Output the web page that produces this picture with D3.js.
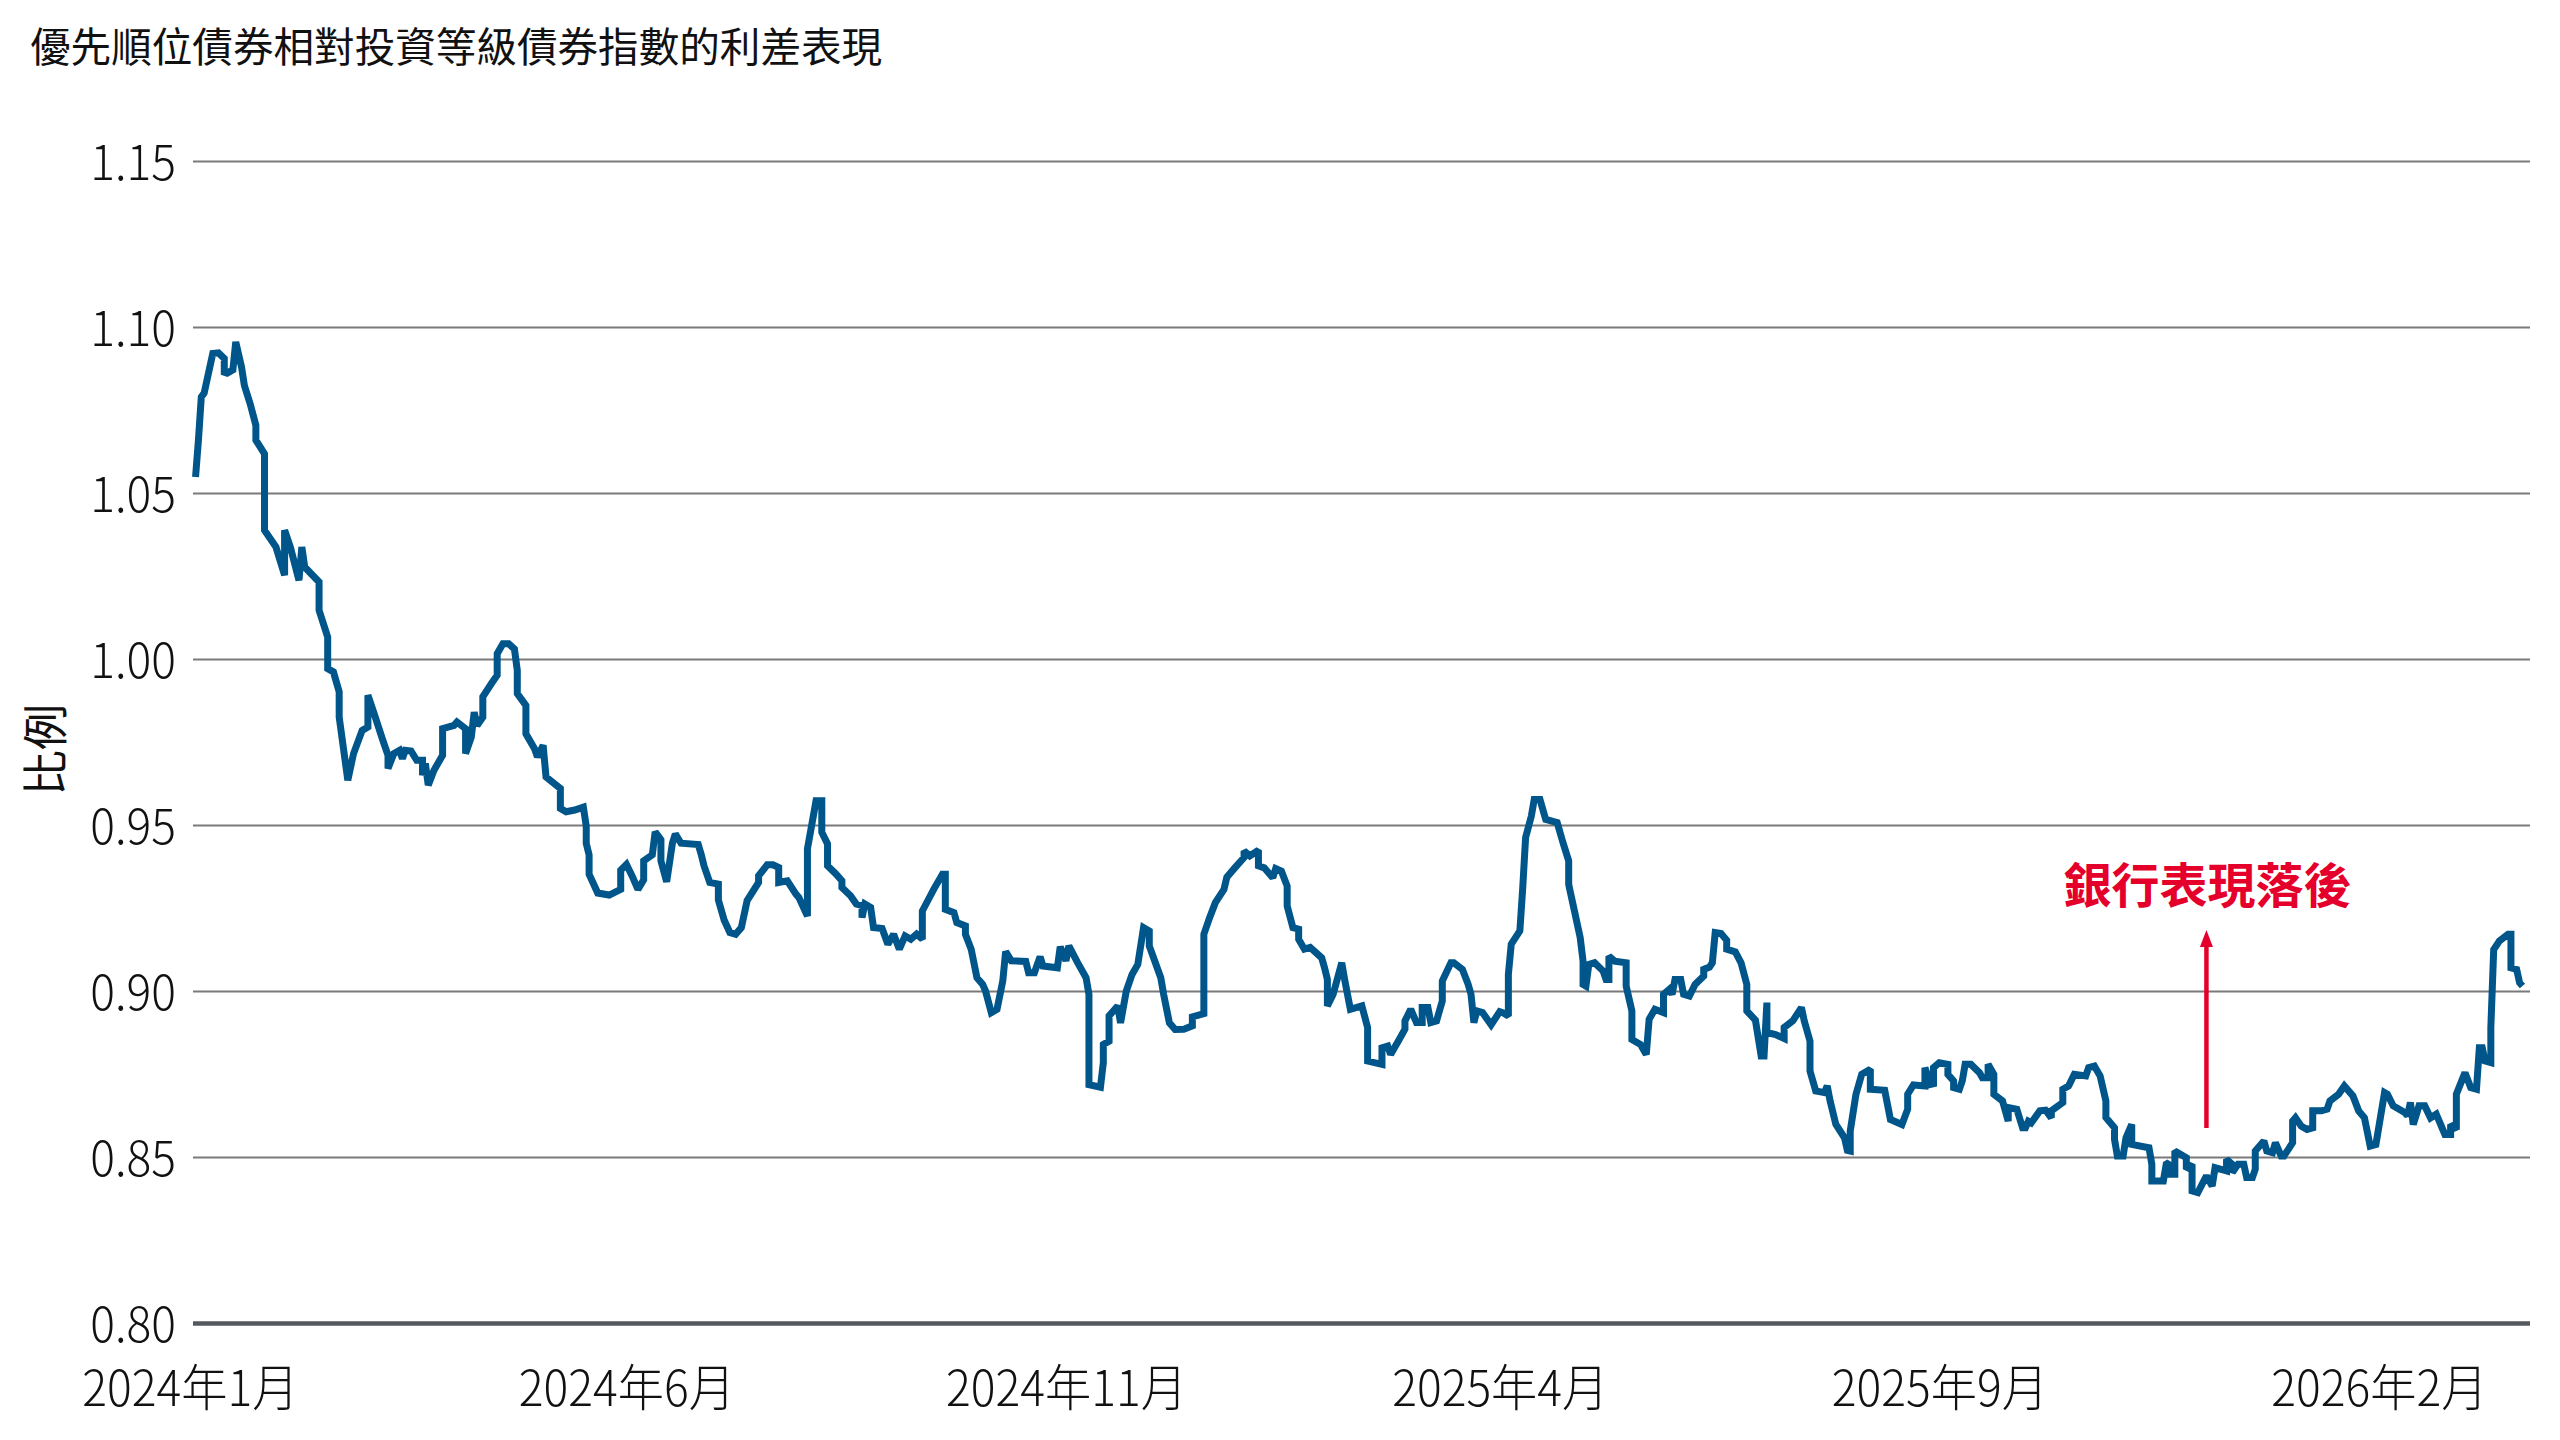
<!DOCTYPE html>
<html>
<head>
<meta charset="UTF-8">
<title>優先順位債券相對投資等級債券指數的利差表現</title>
<script src="https://d3js.org/d3.v7.min.js"></script>
<style>
  body { margin: 0; background: #fff; }
  svg { display: block; }
  .title { font-family: "Noto Sans CJK TC", sans-serif; font-size: 40.6px; fill: #111; }
  .ylabel { font-family: "Noto Sans CJK TC", sans-serif; font-size: 46px; fill: #111; }
  .tick text { font-family: "Noto Sans CJK TC", sans-serif; font-size: 50px; font-weight: 300; fill: #111; }
  .note { font-family: "Noto Sans CJK TC", sans-serif; font-size: 48px; font-weight: 700; fill: #e4002b; }
</style>
</head>
<body>
<script>
// 資料：自 2024-01-01 起算的天數，與比例
var startDate = new Date(2024, 0, 1);
var dayOffsets = [
  2,3,4,5,8,10,12,12,13,15,16,18,19,21,23,23,26,26,26,30,33,33,35,38,39,40,45,45,48,48,
  50,52,52,55,57,60,62,62,64,67,69,69,71,73,74,75,77,79,81,81,82,83,85,88,88,92,93,96,96,98,
  99,100,102,102,105,107,107,109,111,113,114,114,117,117,120,121,123,124,129,129,131,134,137,
  138,138,139,139,142,146,150,150,152,154,156,158,158,161,162,164,164,166,168,169,171,
  177,178,179,181,184,184,186,188,190,192,194,198,198,201,203,205,205,208,211,212,215,215,
  218,220,220,222,222,225,227,227,230,232,234,234,235,237,238,241,243,245,247,249,251,253,
  255,255,259,262,263,263,266,267,270,270,272,274,276,277,279,281,283,284,286,291,292,294,
  296,297,302,303,305,306,309,312,313,313,317,318,318,320,320,323,324,326,328,330,332,334,
  334,338,339,341,343,
  346,349,349,353,353,355,357,360,361,364,367,367,369,372,372,374,377,378,380,382,382,384,
  386,386,388,390,394,395,396,396,398,401,402,403,404,408,410,410,415,415,417,418,421,423,
  423,425,427,429,429,431,432,434,436,436,439,440,443,445,446,447,448,450,453,456,457,459,
  459,460,463,464,465,467,468,470,472,476,478,480,480,482,484,485,485,486,487,489,492,493,
  494,494,496,500,500,502,502,505,507,508,510,513,513,515,516,
  517,519,520,522,524,527,527,529,530,531,533,535,535,538,540,542,542,545,547,548,549,549,
  552,555,555,558,561,562,564,564,566,569,570,571,573,576,577,578,578,580,582,585,585,590,
  592,596,598,598,600,604,604,606,607,607,609,612,612,614,614,616,617,618,620,623,624,626,
  626,628,628,631,633,633,636,638,639,640,641,644,646,648,648,652,652,654,656,660,661,663,
  665,667,667,670,670,671,673,674,676,676,682,683,683,685,687,688,689,
  689,690,691,691,695,695,697,697,699,702,704,705,709,709,711,711,713,715,716,718,719,719,
  722,723,725,726,728,729,732,732,733,735,737,739,739,742,744,745,748,750,753,755,757,759,
  761,764,765,767,771,772,773,774,776,778,780,782,785,787,787,789,789,792,794,796,797,798,
  799,801,801,802,804,807,808,808,810,811,812
];
var ratios = [
  1.0548,1.0659,1.0789,1.0801,1.0920,1.0922,1.0905,1.0864,1.0861,1.0871,1.0955,1.0880,1.0824,1.0769,1.0704,1.0659,1.0618,1.0528,1.0388,1.0337,1.0252,1.0388,1.0337,1.0237,1.0337,1.0277,1.0232,1.0147,1.0066,0.9971,
  0.9961,0.9901,0.9825,0.9635,0.9715,0.9785,0.9795,0.9891,0.9840,0.9760,0.9710,0.9670,0.9715,0.9725,0.9700,0.9725,0.9723,0.9695,0.9695,0.9650,0.9685,0.9620,0.9665,0.9710,0.9790,0.9800,0.9810,0.9790,0.9715,0.9765,
  0.9840,0.9800,0.9825,0.9886,0.9926,0.9951,1.0016,1.0046,1.0046,1.0030,0.9966,0.9896,0.9860,0.9775,0.9730,0.9705,0.9740,0.9645,0.9610,0.9550,0.9540,0.9545,0.9554,
  0.9496,0.9445,0.9410,0.9352,0.9295,0.9289,0.9306,0.9364,0.9381,0.9346,0.9306,0.9335,0.9392,0.9410,0.9479,0.9456,0.9392,0.9329,0.9445,0.9473,0.9445,
  0.9441,0.9412,0.9377,0.9327,0.9322,0.9274,0.9214,0.9176,0.9171,0.9191,0.9272,0.9327,0.9347,0.9380,0.9380,0.9372,0.9327,0.9332,0.9292,0.9282,0.9226,0.9428,
  0.9573,0.9573,0.9478,0.9443,0.9377,0.9352,0.9332,0.9312,0.9287,0.9262,0.9257,0.9221,0.9262,0.9252,0.9191,0.9188,0.9141,0.9171,0.9126,0.9166,0.9156,0.9171,
  0.9156,0.9241,0.9307,0.9352,0.9352,0.9246,0.9236,0.9206,0.9196,0.9171,0.9126,0.9040,0.9020,0.9000,0.8935,0.8945,0.9030,0.9119,0.9091,0.9089,0.9055,0.9055,
  0.9103,0.9075,0.9070,0.9133,0.9091,0.9136,0.9086,0.9040,0.8990,0.8718,0.8710,0.8784,0.8839,0.8849,0.8925,0.8955,0.8904,0.9000,0.9050,0.9080,0.9191,0.9181,
  0.9136,0.9040,0.8990,0.8904,0.8884,
  0.8885,0.8895,0.8922,0.8932,0.9171,0.9221,0.9266,0.9306,0.9343,0.9373,0.9402,0.9422,0.9407,0.9424,0.9377,0.9371,0.9341,0.9369,0.9361,0.9316,0.9256,0.9191,
  0.9186,0.9156,0.9126,0.9131,0.9100,0.9070,0.9035,0.8955,0.8990,0.9085,0.9035,0.8990,0.8945,0.8955,0.8890,0.8789,0.8779,0.8829,0.8834,0.8809,0.8854,0.8885,
  0.8910,0.8945,0.8905,0.8905,0.8950,0.8950,0.8905,0.8910,0.8970,0.9030,0.9085,0.9085,0.9065,0.9020,0.8990,0.8905,0.8940,0.8935,0.8898,0.8938,0.8935,0.8925,
  0.9050,0.9141,0.9181,0.9311,0.9462,0.9527,0.9577,0.9577,0.9517,0.9507,0.9447,0.9392,0.9321,0.9241,0.9161,0.9090,0.9020,0.9015,0.9080,0.9085,0.9060,0.9035,
  0.9035,0.9105,0.9090,0.9085,0.9015,0.8940,0.8854,0.8839,0.8809,0.8915,0.8945,0.8935,0.8990,0.9005,0.8990,
  0.9035,0.9035,0.8990,0.8985,0.9020,0.9045,0.9065,0.9072,0.9085,0.9176,0.9173,0.9153,0.9126,0.9118,0.9085,0.9020,0.8940,0.8912,0.8804,0.8804,0.8965,0.8875,
  0.8869,0.8857,0.8890,0.8910,0.8950,0.8910,0.8849,0.8759,0.8699,0.8694,0.8714,0.8669,0.8598,0.8558,0.8520,0.8518,0.8578,0.8689,0.8749,0.8764,0.8704,0.8701,
  0.8613,0.8598,0.8644,0.8689,0.8717,0.8714,0.8769,0.8719,0.8721,0.8769,0.8784,0.8779,0.8749,0.8729,0.8709,0.8704,0.8729,0.8779,0.8779,0.8754,0.8739,0.8739,
  0.8779,0.8749,0.8689,0.8669,0.8608,0.8649,0.8644,0.8588,0.8588,0.8608,0.8603,0.8639,0.8641,0.8618,0.8639,0.8664,0.8704,0.8714,0.8749,0.8744,0.8769,0.8774,
  0.8744,0.8669,0.8619,0.8588,0.8553,0.8503,0.8503,0.8558,0.8598,0.8538,0.8528,0.8478,0.8428,0.8428,0.8428,0.8478,0.8483,
  0.8448,0.8448,0.8448,0.8518,0.8498,0.8463,0.8478,0.8398,0.8393,0.8443,0.8413,0.8468,0.8458,0.8493,0.8478,0.8453,0.8478,0.8478,0.8438,0.8438,0.8463,0.8518,
  0.8548,0.8518,0.8513,0.8543,0.8503,0.8503,0.8543,0.8608,0.8618,0.8593,0.8583,0.8588,0.8639,0.8639,0.8644,0.8669,0.8689,0.8714,0.8684,0.8639,0.8618,0.8533,
  0.8538,0.8694,0.8689,0.8654,0.8634,0.8624,0.8664,0.8598,0.8654,0.8654,0.8618,0.8629,0.8568,0.8568,0.8598,0.8583,0.8689,0.8754,0.8709,0.8704,0.8829,0.8829,
  0.8789,0.8784,0.8890,0.9125,0.9151,0.9171,0.9171,0.9070,0.9065,0.9025,0.9015
];
var yTicks = [0.80, 0.85, 0.90, 0.95, 1.00, 1.05, 1.10, 1.15];
var xTickDates = ['2024-01-01', '2024-06-01', '2024-11-01', '2025-04-01', '2025-09-01', '2026-02-01'];
var titleText = '優先順位債券相對投資等級債券指數的利差表現';
var yTitle = '比例';
var note = {date: '2025-12-03', from: 0.8587, to: 0.9184, label: '銀行表現落後'};

var width = 2560, height = 1440;
var plotLeft = 193, plotRight = 2530, plotTop = 161, plotBottom = 1323;
var narrow = 0.925; // 刻度字體較窄

var parse = d3.timeParse('%Y-%m-%d');
var series = dayOffsets.map(function (d, i) {
  return {date: d3.timeDay.offset(startDate, d), value: ratios[i]};
});

var x = d3.scaleTime()
  .domain([startDate, d3.timeDay.offset(startDate, 814)])
  .range([189.8, 189.8 + 814 * 2.8727]);
var y = d3.scaleLinear().domain([0.80, 1.15]).range([plotBottom, plotTop]);

var svg = d3.select('body').append('svg')
  .attr('width', width)
  .attr('height', height);

svg.append('rect').attr('width', width).attr('height', height).attr('fill', '#fff');

svg.append('text')
  .attr('class', 'title')
  .attr('x', 30)
  .attr('y', 62)
  .text(titleText);

// y 軸與格線
var yAxis = svg.append('g')
  .attr('transform', 'translate(' + plotLeft + ',0)')
  .call(d3.axisLeft(y)
    .tickValues(yTicks)
    .tickSize(-(plotRight - plotLeft))
    .tickPadding(17)
    .tickFormat(d3.format('.2f')));
yAxis.select('.domain').remove();
yAxis.selectAll('.tick line')
  .attr('stroke', function (d) { return d === 0.80 ? '#54585c' : '#7a7a7a'; })
  .attr('stroke-width', function (d) { return d === 0.80 ? 4.5 : 2; });
yAxis.selectAll('.tick text')
  .attr('dy', '0.36em')
  .attr('x', -17 / narrow)
  .attr('transform', 'scale(' + narrow + ',1)');

// x 軸
var xAxis = svg.append('g')
  .attr('transform', 'translate(0,' + plotBottom + ')')
  .call(d3.axisBottom(x)
    .tickValues(xTickDates.map(parse))
    .tickSize(0)
    .tickPadding(48)
    .tickFormat(function (d) { return d.getFullYear() + '年' + (d.getMonth() + 1) + '月'; }));
xAxis.select('.domain').remove();
xAxis.selectAll('.tick text').attr('transform', 'scale(' + narrow + ',1)');

svg.append('text')
  .attr('class', 'ylabel')
  .attr('transform', 'translate(62,750) rotate(-90)')
  .attr('text-anchor', 'middle')
  .text(yTitle);

// 折線
var line = d3.line()
  .x(function (d) { return x(d.date); })
  .y(function (d) { return y(d.value); });

svg.append('path')
  .datum(series)
  .attr('fill', 'none')
  .attr('stroke', '#00568a')
  .attr('stroke-width', 7)
  .attr('stroke-linejoin', 'miter')
  .attr('stroke-miterlimit', 2)
  .attr('d', line);

// 註解
var nx = x(parse(note.date));
svg.append('line')
  .attr('x1', nx).attr('x2', nx)
  .attr('y1', y(note.from)).attr('y2', y(note.to) + 14)
  .attr('stroke', '#e4002b')
  .attr('stroke-width', 4.5);
svg.append('path')
  .attr('d', 'M' + nx + ',' + y(note.to) + 'l-6.5,17h13z')
  .attr('fill', '#e4002b');
svg.append('text')
  .attr('class', 'note')
  .attr('x', nx + 1)
  .attr('y', y(note.to) - 27)
  .attr('text-anchor', 'middle')
  .text(note.label);
</script>
</body>
</html>
